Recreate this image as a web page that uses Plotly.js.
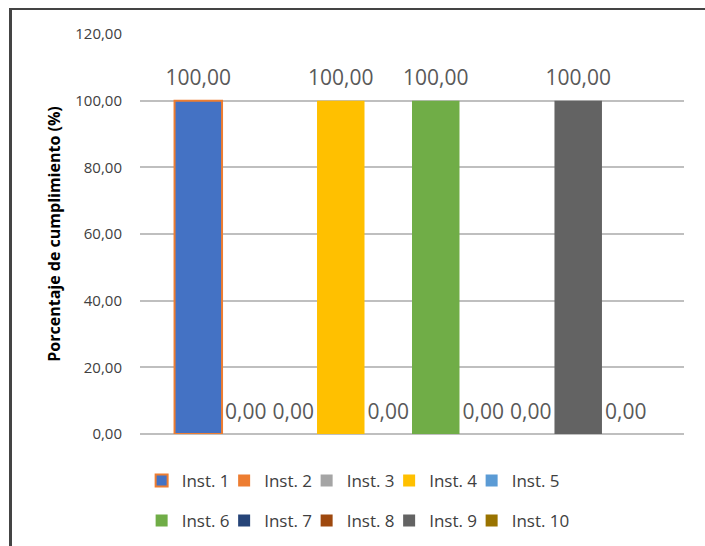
<!DOCTYPE html>
<html>
<head>
<meta charset="utf-8">
<script src="https://cdn.plot.ly/plotly-3.0.1.min.js"></script>
<style>
  html, body { margin: 0; padding: 0; background: #ffffff; }
  #wrap { position: relative; width: 705px; height: 546px; overflow: hidden; }
  #chart { position: absolute; left: 0; top: 0; width: 705px; height: 546px; }
  #frame { position: absolute; left: 9px; top: 8px; width: 720px; height: 560px;
           border-left: 3px solid #444444; border-top: 2px solid #444444; pointer-events: none; }
</style>
</head>
<body>
<div id="wrap">
  <div id="chart"></div>
  <div id="frame"></div>
</div>
<script>
const categories = ["Cumplimiento"];
const seriesNames = ["Inst. 1","Inst. 2","Inst. 3","Inst. 4","Inst. 5","Inst. 6","Inst. 7","Inst. 8","Inst. 9","Inst. 10"];
const seriesValues = [100, 0, 0, 100, 0, 100, 0, 0, 100, 0];
const seriesColors = ["#4472C4","#ED7D31","#A5A5A5","#FFC000","#5B9BD5","#70AD47","#264478","#9E480E","#636363","#997300"];
const yTickValues = [0, 20, 40, 60, 80, 100, 120];
const yAxisTitle = "Porcentaje de cumplimiento (%)";

const FONT = "Open Sans, Liberation Sans, sans-serif";

// legend grid layout (5 columns x 2 rows)
const LEG_COLS = 5;
const LEG_X0 = 0.003;          // paper x of first column
const LEG_STEP = 82.5 / 544;   // paper width per column
const LEG_ROW_Y = [0.119, 0.046]; // container y of each row

const legendId = i => (i === 0 ? "legend" : "legend" + (i + 1));

const traces = seriesNames.map((name, i) => ({
  type: "bar",
  name: name,
  x: categories,
  y: [seriesValues[i]],
  marker: {
    color: seriesColors[i],
    line: { color: i === 0 ? "#ED7D31" : seriesColors[i], width: i === 0 ? 2 : 0 }
  },
  texttemplate: "<span style='font-size:21px'>%{y:.2f}</span><br>\u00a0",
  textposition: "outside",
  textfont: { family: FONT, size: 8, color: "#595959" },
  constraintext: "none",
  cliponaxis: false,
  hoverinfo: "skip",
  legend: legendId(i)
}));

const layout = {
  width: 705,
  height: 546,
  margin: { l: 140, r: 21, t: 34, b: 112 },
  paper_bgcolor: "#ffffff",
  plot_bgcolor: "#ffffff",
  separators: ",.",
  barmode: "group",
  bargap: 0.127,
  bargroupgap: 0,
  showlegend: true,
  xaxis: {
    type: "category",
    showticklabels: false,
    showgrid: false,
    zeroline: false,
    showline: false,
    ticks: ""
  },
  yaxis: {
    range: [0, 120],
    tickvals: yTickValues,
    tickformat: ".2f",
    showgrid: true,
    gridcolor: "#BFBFBF",
    gridwidth: 2,
    zeroline: true,
    zerolinecolor: "#BFBFBF",
    zerolinewidth: 2,
    showline: false,
    ticks: "",
    ticklabelstandoff: 17,
    tickfont: { family: FONT, size: 15, color: "#404040" },
    title: { text: yAxisTitle, standoff: 10, font: { family: FONT, size: 16, color: "#000000", weight: "bold" } }
  }
};

seriesNames.forEach((name, i) => {
  const col = i % LEG_COLS;
  const row = Math.floor(i / LEG_COLS);
  layout[legendId(i)] = {
    orientation: "h",
    xref: "paper",
    yref: "container",
    x: LEG_X0 + col * LEG_STEP,
    y: LEG_ROW_Y[row],
    xanchor: "left",
    yanchor: "middle",
    font: { family: FONT, size: 17, color: "#404040" },
    bgcolor: "rgba(0,0,0,0)",
    itemclick: false,
    itemdoubleclick: false
  };
});

Plotly.newPlot("chart", traces, layout, { displayModeBar: false });
</script>
</body>
</html>
